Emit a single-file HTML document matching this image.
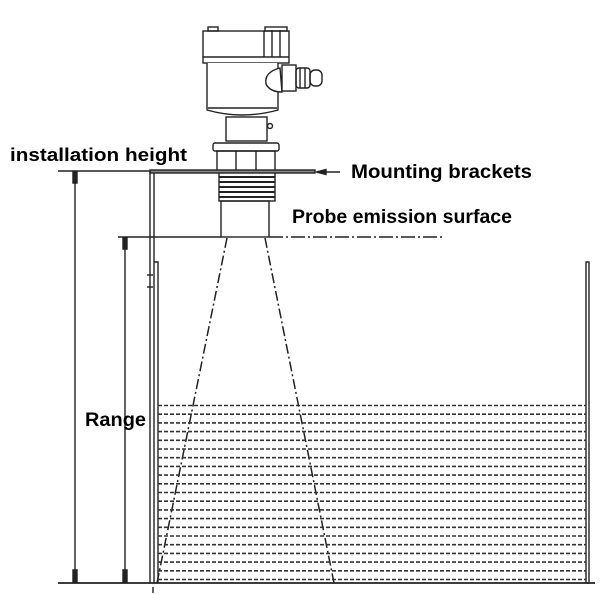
<!DOCTYPE html>
<html><head><meta charset="utf-8"><style>
body{margin:0;background:#fff}
svg{display:block}
text{font-family:"Liberation Sans",sans-serif;font-weight:bold;fill:#000}
</style></head><body>
<svg width="608" height="594" viewBox="0 0 608 594" xmlns="http://www.w3.org/2000/svg">
<g fill="none" stroke="#222" stroke-width="1.4">
<!-- housing lid -->
<rect x="203" y="31" width="86" height="32" fill="#fff"/>
<line x1="203" y1="57" x2="289" y2="57"/>
<line x1="264" y1="31" x2="264" y2="57"/>
<line x1="272" y1="30" x2="272" y2="57"/>
<line x1="280" y1="30" x2="280" y2="57"/>
<rect x="208" y="27" width="10" height="4"/>
<rect x="265" y="27" width="22" height="4"/>
<!-- body -->
<path d="M207 63 L207 110 Q242 120 278 110 L278 63" fill="#fff"/>
<line x1="208" y1="108" x2="277" y2="108"/>
<!-- gland -->
<path d="M280 68 Q264 72 266 84 Q270 92 282 92 Z" fill="#fff"/>
<rect x="282" y="65" width="14" height="26"/>
<rect x="296" y="68" width="14" height="20" rx="3"/>
<rect x="310" y="70" width="12" height="16" rx="5"/>
<line x1="300" y1="68" x2="300" y2="88"/><line x1="305" y1="68" x2="305" y2="88"/>
<!-- neck -->
<rect x="226" y="117" width="41" height="24"/>
<circle cx="270" cy="126" r="2.5"/>
<!-- nut -->
<rect x="213" y="143" width="66" height="8" rx="2"/>
<rect x="217" y="151" width="58" height="20"/>
<line x1="236" y1="151" x2="236" y2="171"/><line x1="256" y1="151" x2="256" y2="171"/>
<!-- thread -->
<rect x="219" y="171" width="56" height="30"/>
<g stroke-width="2"><line x1="219" y1="177" x2="275" y2="177"/><line x1="219" y1="182" x2="275" y2="182"/><line x1="219" y1="187" x2="275" y2="187"/><line x1="219" y1="192" x2="275" y2="192"/><line x1="219" y1="197" x2="275" y2="197"/></g>
<!-- probe tube -->
<rect x="221" y="201" width="48" height="36"/>
<!-- bracket plate -->
<line x1="58" y1="171" x2="150" y2="171"/>
<rect x="150" y="170" width="165" height="3" fill="#888"/>
<line x1="150" y1="171" x2="150" y2="583"/>
<line x1="154" y1="173" x2="154" y2="583"/>
<path d="M154 262 L158 262 L158 583"/>
<line x1="147" y1="275" x2="153" y2="275"/><line x1="147" y1="287" x2="153" y2="287"/>
<!-- arrow to bracket -->
<line x1="318" y1="172" x2="340" y2="172"/>
<path d="M316 172 L326 169.5 L326 174.5 Z" fill="#222"/>
<!-- emission line -->
<line x1="118" y1="237" x2="221" y2="237"/>
<line x1="269" y1="237" x2="445" y2="237" stroke-dasharray="14 3 2 3"/>
<!-- dimension lines -->
<line x1="75" y1="173" x2="75" y2="583"/>
<line x1="125" y1="239" x2="125" y2="583"/>
<path d="M73 172 L77 172 L77 183 L73 183 Z" fill="#222"/>
<path d="M123 238 L127 238 L127 249 L123 249 Z" fill="#222"/>
<path d="M73 570 L77 570 L77 582 L73 582 Z" fill="#222"/>
<path d="M123 570 L127 570 L127 582 L123 582 Z" fill="#222"/>
<!-- bottom and right wall -->
<line x1="58" y1="583" x2="595" y2="583" stroke-width="1.8"/>
<rect x="586" y="262" width="3" height="321"/>
<!-- beam -->
<line x1="227" y1="238" x2="157" y2="583" stroke-dasharray="10 3 2 3" stroke-width="1.5"/>
<line x1="265" y1="238" x2="334" y2="583" stroke-dasharray="10 3 2 3" stroke-width="1.5"/>
<!-- liquid -->
<g stroke-dasharray="4 2" stroke-width="1.6" stroke="#333">
<line x1="158" y1="405.5" x2="586" y2="405.5"/><line x1="158" y1="414.2" x2="586" y2="414.2"/><line x1="158" y1="422.9" x2="586" y2="422.9"/><line x1="158" y1="431.6" x2="586" y2="431.6"/><line x1="158" y1="440.3" x2="586" y2="440.3"/><line x1="158" y1="449" x2="586" y2="449"/><line x1="158" y1="457.7" x2="586" y2="457.7"/><line x1="158" y1="466.4" x2="586" y2="466.4"/><line x1="158" y1="475.1" x2="586" y2="475.1"/><line x1="158" y1="483.8" x2="586" y2="483.8"/><line x1="158" y1="492.5" x2="586" y2="492.5"/><line x1="158" y1="501.2" x2="586" y2="501.2"/><line x1="158" y1="509.9" x2="586" y2="509.9"/><line x1="158" y1="518.6" x2="586" y2="518.6"/><line x1="158" y1="527.3" x2="586" y2="527.3"/><line x1="158" y1="536" x2="586" y2="536"/><line x1="158" y1="544.7" x2="586" y2="544.7"/><line x1="158" y1="553.4" x2="586" y2="553.4"/><line x1="158" y1="562.1" x2="586" y2="562.1"/><line x1="158" y1="570.8" x2="586" y2="570.8"/><line x1="158" y1="579.5" x2="586" y2="579.5"/>
</g>
<line x1="153" y1="587" x2="153" y2="593"/>
</g>
<text x="10" y="161" font-size="18.5" textLength="177" lengthAdjust="spacingAndGlyphs">installation height</text>
<text x="351" y="178" font-size="19" textLength="181" lengthAdjust="spacingAndGlyphs">Mounting brackets</text>
<text x="292" y="223" font-size="19" textLength="220" lengthAdjust="spacingAndGlyphs">Probe emission surface</text>
<text x="85" y="426" font-size="19" textLength="61" lengthAdjust="spacingAndGlyphs">Range</text>
</svg>
</body></html>
